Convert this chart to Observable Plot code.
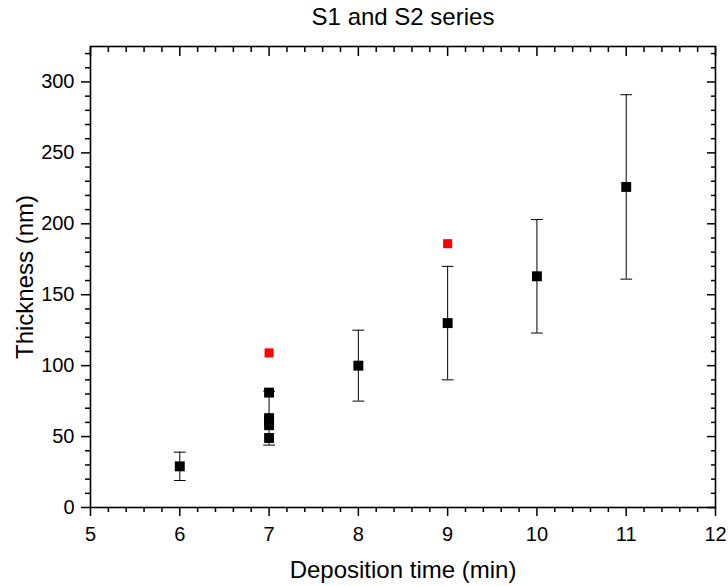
<!DOCTYPE html>
<html>
<head>
<meta charset="utf-8">
<script src="https://cdn.jsdelivr.net/npm/d3@7"></script>
<script src="https://cdn.jsdelivr.net/npm/@observablehq/plot@0.6"></script>
<style>
  html, body { margin: 0; padding: 0; background: #fff; }
  #chart { width: 728px; height: 586px; }
</style>
</head>
<body>
<div id="chart"></div>
<script>
// ---- data ----
const s1X = [6, 7, 7, 7, 7, 7, 8, 9, 10, 11];
const s1Y = [29, 49, 58, 61, 63, 81, 100, 130, 163, 226];
const errX = [6, 7, 8, 9, 10, 11];
const errLo = [19, 44, 75, 90, 123, 161];
const errHi = [39, 82, 125, 170, 203, 291];
const s2X = [7, 9];
const s2Y = [109, 186];
const xMajor = [5, 6, 7, 8, 9, 10, 11, 12];
const yMajor = [0, 50, 100, 150, 200, 250, 300];
const xMinor = d3.range(5, 12.001, 0.2).map(v => +v.toFixed(1)).filter(v => !xMajor.includes(v));
const yMinor = d3.range(0, 325, 10).filter(v => !yMajor.includes(v));
const titleText = "S1 and S2 series";
const xLabel = "Deposition time (min)";
const yLabel = "Thickness (nm)";

const s1 = s1X.map((x, i) => ({x, y: s1Y[i]}));
const s2 = s2X.map((x, i) => ({x, y: s2Y[i]}));
const err = errX.map((x, i) => ({x, lo: errLo[i], hi: errHi[i]}));

const cap = {draw(context, l) { context.moveTo(0, 0); context.lineTo(0, -l); }};
const none = () => "";

const chart = Plot.plot({
  width: 728,
  height: 586,
  marginTop: 46,
  marginRight: 13,
  marginBottom: 79,
  marginLeft: 90,
  style: {fontFamily: "'Liberation Sans', Arial, sans-serif", fontSize: "20px", color: "black", background: "white"},
  x: {domain: [5, 12]},
  y: {domain: [0, 325]},
  marks: [
    // error bars
    Plot.ruleX(err, {x: "x", y1: "lo", y2: "hi", stroke: "black", strokeWidth: 1}),
    Plot.vector(err, {x: "x", y: "lo", length: 11, rotate: 90, anchor: "middle", shape: cap, stroke: "black", strokeWidth: 1}),
    Plot.vector(err, {x: "x", y: "hi", length: 11, rotate: 90, anchor: "middle", shape: cap, stroke: "black", strokeWidth: 1}),
    // points
    Plot.dot(s1, {x: "x", y: "y", symbol: "square", r: 5.6, fill: "black", stroke: null}),
    Plot.dot(s2, {x: "x", y: "y", symbol: "square", r: 5.1, fill: "#ff0000", stroke: null}),
    // frame
    Plot.frame({stroke: "black", strokeWidth: 1.6}),
    // bottom axis
    Plot.axisX(xMajor, {anchor: "bottom", tickSize: 9, tickFormat: none, label: null, strokeWidth: 1.5}),
    Plot.axisX(xMinor, {anchor: "bottom", tickSize: 5, tickFormat: none, label: null, strokeWidth: 1.5}),
    Plot.text(xMajor, {x: d => d, frameAnchor: "bottom", lineAnchor: "top", textAnchor: "middle", dy: 19, fontSize: 20, fill: "black"}),
    // top axis (inward)
    Plot.axisX(xMajor, {anchor: "top", tickSize: -9, tickFormat: none, label: null, strokeWidth: 1.5}),
    Plot.axisX(xMinor, {anchor: "top", tickSize: -5, tickFormat: none, label: null, strokeWidth: 1.5}),
    // left axis
    Plot.axisY(yMajor, {anchor: "left", tickSize: 9, tickFormat: none, label: null, strokeWidth: 1.5}),
    Plot.axisY(yMinor, {anchor: "left", tickSize: 5, tickFormat: none, label: null, strokeWidth: 1.5}),
    Plot.text(yMajor, {y: d => d, frameAnchor: "left", textAnchor: "end", lineAnchor: "middle", dx: -16, fontSize: 20, fill: "black"}),
    // right axis (inward)
    Plot.axisY(yMajor, {anchor: "right", tickSize: -9, tickFormat: none, label: null, strokeWidth: 1.5}),
    Plot.axisY(yMinor, {anchor: "right", tickSize: -5, tickFormat: none, label: null, strokeWidth: 1.5}),
    // titles
    Plot.text([titleText], {frameAnchor: "top", lineAnchor: "middle", textAnchor: "middle", dy: -29, fontSize: 24, fill: "black"}),
    Plot.text([xLabel], {frameAnchor: "bottom", lineAnchor: "middle", textAnchor: "middle", dy: 63, fontSize: 24, fill: "black"}),
    Plot.text([yLabel], {frameAnchor: "left", lineAnchor: "middle", textAnchor: "middle", dx: -65, rotate: -90, fontSize: 24, fill: "black"})
  ]
});
document.getElementById("chart").appendChild(chart);
</script>
</body>
</html>
